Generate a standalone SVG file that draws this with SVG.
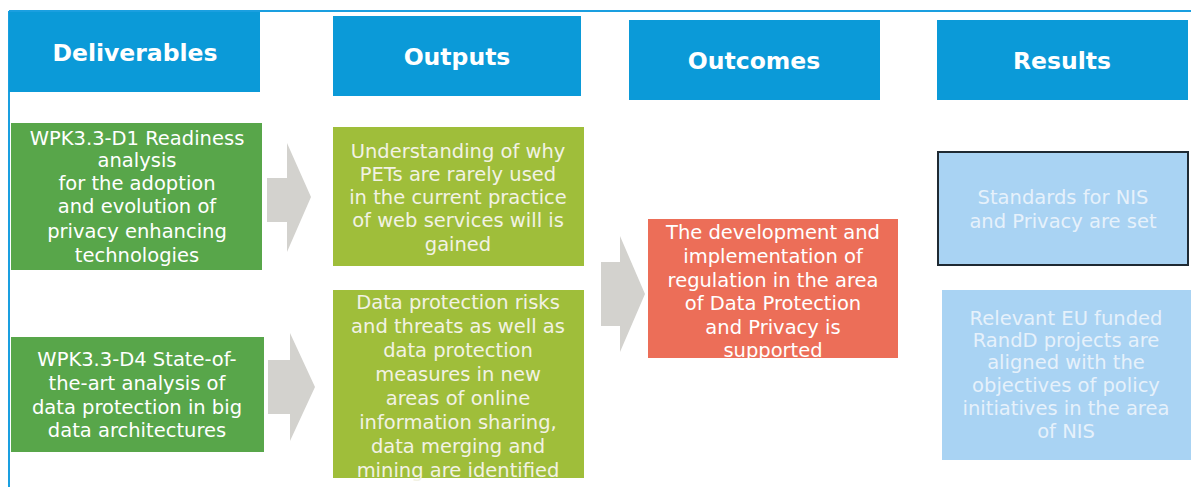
<svg xmlns="http://www.w3.org/2000/svg" width="1191" height="487" viewBox="0 0 1191 487">
<style>
.hdr{fill:#0b9ad8}
.ht{font-family:"DejaVu Sans",Verdana,sans-serif;font-weight:bold;font-size:23.5px;fill:#ffffff;text-anchor:middle}
.t{font-family:"DejaVu Sans",Verdana,sans-serif;font-size:19.5px;fill:#ffffff;text-anchor:middle}
.tl{font-family:"DejaVu Sans",Verdana,sans-serif;font-size:19.5px;fill:#f2f2e4;text-anchor:middle}
.tb{font-family:"DejaVu Sans",Verdana,sans-serif;font-size:19.5px;fill:#e6f1fb;text-anchor:middle}
.dg{fill:#58a64a}
.lg{fill:#9fbe3a}
.rd{fill:#ec6e58}
.lb{fill:#a9d3f3}
.arr{fill:#d3d2ce}
</style>
<rect width="1191" height="487" fill="#ffffff"/>
<g id="frame">
<line x1="9" y1="11" x2="1191" y2="11" stroke="#1a9fe0" stroke-width="2"/>
<line x1="9" y1="11" x2="9" y2="487" stroke="#1a9fe0" stroke-width="2"/>
</g>
<g id="h-deliverables"><rect class="hdr" x="9" y="12" width="251" height="80"/><text class="ht" x="135" y="61">Deliverables</text></g>
<g id="h-outputs"><rect class="hdr" x="333" y="16" width="248" height="80"/><text class="ht" x="457" y="65">Outputs</text></g>
<g id="h-outcomes"><rect class="hdr" x="629" y="20" width="251" height="80"/><text class="ht" x="754" y="69">Outcomes</text></g>
<g id="h-results"><rect class="hdr" x="937" y="20" width="251" height="80"/><text class="ht" x="1062" y="69">Results</text></g>
<g id="d1"><rect class="dg" x="11" y="123" width="251" height="147"/>
<text class="t" x="137"><tspan x="137" y="145">WPK3.3-D1 Readiness</tspan><tspan x="137" y="167">analysis</tspan><tspan x="137" y="190">for the adoption</tspan><tspan x="137" y="213">and evolution of</tspan><tspan x="137" y="238">privacy enhancing</tspan><tspan x="137" y="262">technologies</tspan></text></g>
<g id="d4"><rect class="dg" x="11" y="337" width="253" height="115"/>
<text class="t" x="137"><tspan x="137" y="366">WPK3.3-D4 State-of-</tspan><tspan x="137" y="390">the-art analysis of</tspan><tspan x="137" y="414">data protection in big</tspan><tspan x="137" y="437">data architectures</tspan></text></g>
<g id="o1"><rect class="lg" x="333" y="127" width="251" height="139"/>
<text class="tl" x="458"><tspan x="458" y="158">Understanding of why</tspan><tspan x="458" y="181">PETs are rarely used</tspan><tspan x="458" y="204">in the current practice</tspan><tspan x="458" y="227">of web services will is</tspan><tspan x="458" y="251">gained</tspan></text></g>
<g id="o2"><rect class="lg" x="333" y="290" width="251" height="188"/>
<text class="tl" x="458"><tspan x="458" y="309">Data protection risks</tspan><tspan x="458" y="333">and threats as well as</tspan><tspan x="458" y="357">data protection</tspan><tspan x="458" y="381">measures in new</tspan><tspan x="458" y="405">areas of online</tspan><tspan x="458" y="429">information sharing,</tspan><tspan x="458" y="453">data merging and</tspan><tspan x="458" y="477">mining are identified</tspan></text></g>
<g id="outcome"><rect class="rd" x="648" y="219" width="250" height="139"/>
<text class="t" x="773"><tspan x="773" y="239">The development and</tspan><tspan x="773" y="263">implementation of</tspan><tspan x="773" y="287">regulation in the area</tspan><tspan x="773" y="310">of Data Protection</tspan><tspan x="773" y="334">and Privacy is</tspan><tspan x="773" y="357">supported</tspan></text></g>
<g id="r1"><rect class="lb" x="938" y="152" width="250" height="113" stroke="#1f2a33" stroke-width="2"/>
<text class="tb" x="1063"><tspan x="1063" y="204">Standards for NIS</tspan><tspan x="1063" y="228">and Privacy are set</tspan></text></g>
<g id="r2"><rect class="lb" x="942" y="290" width="249" height="170"/>
<text class="tb" x="1066"><tspan x="1066" y="325">Relevant EU funded</tspan><tspan x="1066" y="347">RandD projects are</tspan><tspan x="1066" y="369">aligned with the</tspan><tspan x="1066" y="392">objectives of policy</tspan><tspan x="1066" y="415">initiatives in the area</tspan><tspan x="1066" y="438">of NIS</tspan></text></g>
<g id="connectors">
<polygon class="arr" points="267,178 287,178 287,143 311,197 287,252 287,222 267,222"/>
<polygon class="arr" points="268,360 290,360 290,333 315,387 290,441 290,414 268,414"/>
<polygon class="arr" points="601,262 620,262 620,236 645,294 620,352 620,326 601,326"/>
</g>
</svg>
